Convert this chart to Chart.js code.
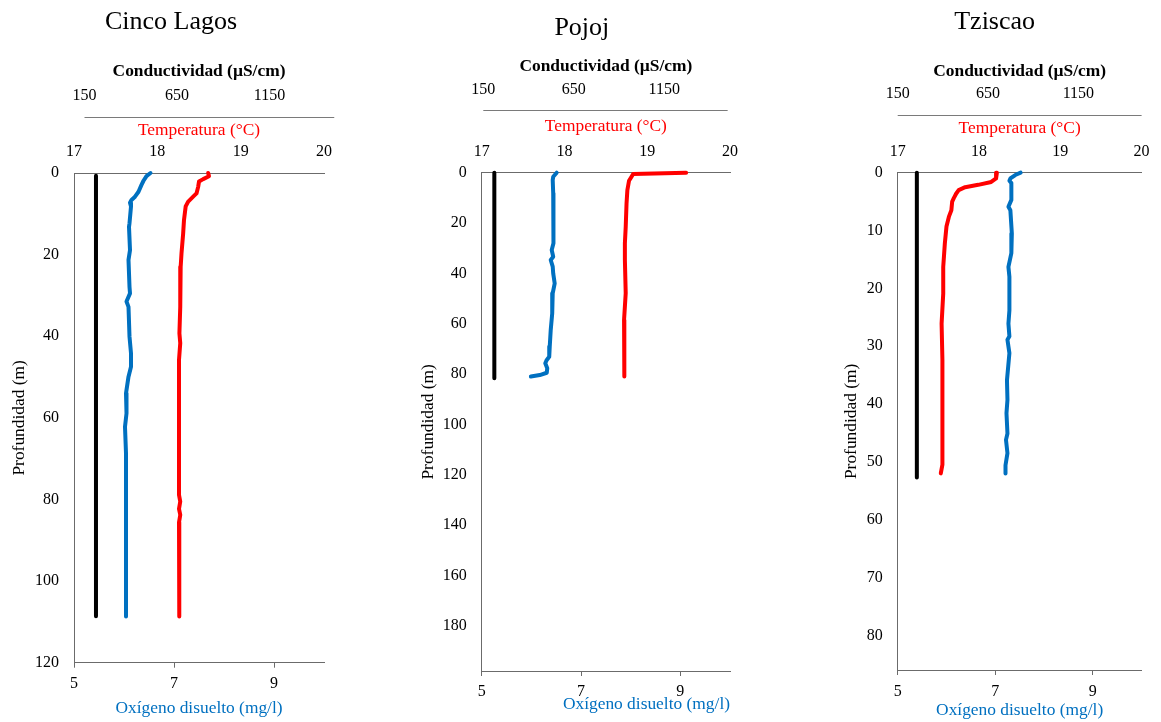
<!DOCTYPE html>
<html><head><meta charset="utf-8">
<script src="https://cdn.jsdelivr.net/npm/chart.js@4.4.1/dist/chart.umd.min.js"></script>
<style>
html,body{margin:0;padding:0;background:#fff;width:1161px;height:722px;overflow:hidden;}
canvas{position:absolute;top:0;}
</style></head><body>
<canvas id="c1" width="387" height="722" style="left:0px"></canvas>
<canvas id="c2" width="387" height="722" style="left:387px"></canvas>
<canvas id="c3" width="387" height="722" style="left:774px"></canvas>
<script>
// ---------------- DATA ----------------
const panelTitles = ['Cinco Lagos', 'Pojoj', 'Tziscao'];
const oxyTicks = [5, 7, 9];
const tempTicks = [17, 18, 19, 20];
const condTicks = [150, 650, 1150];

// Cinco Lagos
const cincoDepthTicks = [0, 20, 40, 60, 80, 100, 120];
const cincoOxyDepth = [0, 0.75, 1.9, 2.9, 4.6, 5.8, 6.6, 7.3, 8.2, 12.3, 13.2, 18.9, 21.3, 27.9, 29.5, 31.5, 32.8, 40.1, 44.2, 47.5, 49.9, 54, 58.9, 62.2, 68.7, 80, 100, 108.7];
const cincoOxy = [6.53, 6.45, 6.39, 6.35, 6.29, 6.22, 6.15, 6.12, 6.14, 6.11, 6.10, 6.12, 6.09, 6.11, 6.12, 6.05, 6.09, 6.11, 6.14, 6.14, 6.09, 6.04, 6.05, 6.02, 6.04, 6.04, 6.04, 6.04];
const cincoTempDepth = [0, 0.8, 1.5, 2.1, 3.4, 5.0, 5.8, 7.0, 8.2, 11.5, 14.8, 19.7, 23, 32.8, 39.3, 41.7, 45.8, 70, 78.9, 80.5, 82.3, 83.8, 85.6, 99, 100.5, 108.7];
const cincoTemp = [18.61, 18.62, 18.55, 18.50, 18.49, 18.47, 18.43, 18.37, 18.34, 18.32, 18.31, 18.29, 18.28, 18.275, 18.265, 18.275, 18.26, 18.26, 18.26, 18.275, 18.26, 18.275, 18.26, 18.26, 18.27, 18.26];
const cincoCondDepth = [0.7, 30, 60, 90, 108.6];
const cincoCond = [212, 212, 212, 212, 212];

// Pojoj
const pojojDepthTicks = [0, 20, 40, 60, 80, 100, 120, 140, 160, 180];
const pojojOxyDepth = [0, 1.6, 2.9, 8.2, 18.8, 28, 30.7, 33.4, 34.7, 37.3, 40, 44, 47.9, 55.9, 62.5, 69.1, 73.1, 74.4, 75.7, 77.7, 79.5, 80.4, 81];
const pojojOxy = [6.51, 6.44, 6.43, 6.44, 6.45, 6.44, 6.41, 6.44, 6.39, 6.43, 6.44, 6.47, 6.43, 6.42, 6.39, 6.37, 6.36, 6.31, 6.28, 6.32, 6.31, 6.17, 5.99];
const pojojTempDepth = [0, 0.5, 1.6, 3.2, 6.9, 12.2, 21.5, 28, 34.7, 47.9, 58.5, 65.2, 74.4, 81];
const pojojTemp = [19.47, 18.83, 18.81, 18.78, 18.76, 18.75, 18.74, 18.73, 18.73, 18.74, 18.72, 18.73, 18.72, 18.72];
const pojojCondDepth = [0, 30, 60, 81.7];
const pojojCond = [211, 211, 211, 211];

// Tziscao
const tzisDepthTicks = [0, 10, 20, 30, 40, 50, 60, 70, 80];
const tzisOxyDepth = [0, 0.4, 1, 1.4, 1.8, 4.7, 5.9, 6.5, 10.5, 13.9, 16.3, 18, 23.8, 26.1, 28.3, 28.9, 31.2, 35.9, 39.3, 41.6, 45.1, 46.2, 48.5, 50.6, 52];
const tzisOxy = [7.52, 7.41, 7.31, 7.29, 7.33, 7.33, 7.27, 7.31, 7.34, 7.33, 7.27, 7.29, 7.29, 7.27, 7.29, 7.25, 7.29, 7.24, 7.25, 7.23, 7.25, 7.22, 7.25, 7.21, 7.21];
const tzisTempDepth = [0, 1, 1.6, 2.1, 2.5, 3, 3.6, 4.4, 5, 6.5, 7.6, 9.3, 12.2, 16.3, 20.9, 26.1, 32.4, 48.5, 50.5, 52];
const tzisTemp = [18.22, 18.21, 18.15, 17.99, 17.83, 17.75, 17.72, 17.69, 17.67, 17.66, 17.63, 17.60, 17.58, 17.56, 17.56, 17.54, 17.55, 17.55, 17.55, 17.53];
const tzisCondDepth = [0, 25, 52.7];
const tzisCond = [256, 256, 256];

// ---------------- STYLE / LAYOUT ----------------
const FONT = 'Liberation Serif';
const AXIS = '#6b6b6b';
const RED = '#FF0000';
const BLUE = '#0070C0';
const TITLE_SIZE = 17.4;

const panelTitlePlugin = {
  id: 'panelTitle',
  afterDraw(chart, args, o) {
    const ca = chart.chartArea, ctx = chart.ctx;
    ctx.save();
    ctx.font = '26px "' + FONT + '"';
    ctx.fillStyle = '#000';
    ctx.textAlign = 'center';
    ctx.textBaseline = 'alphabetic';
    ctx.fillText(o.text, (ca.left + ca.right) / 2 + o.dx, o.baseline);
    ctx.restore();
  }
};
const condLinePlugin = {
  id: 'condLine',
  afterDraw(chart, args, o) {
    const s = chart.scales.cond, ctx = chart.ctx;
    const y = Math.round(s.bottom) + 0.5;
    ctx.save();
    ctx.strokeStyle = '#7a7a7a';
    ctx.lineWidth = 1.2;
    ctx.beginPath();
    ctx.moveTo(s.getPixelForValue(o.from), y);
    ctx.lineTo(s.getPixelForValue(o.to), y);
    ctx.stroke();
    ctx.restore();
  }
};

const pairs = (ys, xs) => xs.map((v, i) => ({x: v, y: ys[i]}));
const setTicks = arr => s => { s.ticks = arr.map(v => ({value: v})); };
const plain = v => String(v);

function build(id, c) {
  const f16 = {family: FONT, size: 16};
  const fT = {family: FONT, size: TITLE_SIZE};
  const lineStyle = {showLine: true, pointRadius: 0, borderWidth: 4, borderCapStyle: 'round', borderJoinStyle: 'round', fill: false, clip: false, tension: 0};
  new Chart(document.getElementById(id), {
    type: 'scatter',
    data: {datasets: [
      Object.assign({label: 'Conductividad', data: pairs(c.condDepth, c.cond), xAxisID: 'cond', yAxisID: 'y', borderColor: '#000'}, lineStyle),
      Object.assign({label: 'Oxígeno disuelto', data: pairs(c.oxyDepth, c.oxy), xAxisID: 'oxy', yAxisID: 'y', borderColor: BLUE}, lineStyle),
      Object.assign({label: 'Temperatura', data: pairs(c.tempDepth, c.temp), xAxisID: 'temp', yAxisID: 'y', borderColor: RED}, lineStyle)
    ]},
    options: {
      responsive: false, animation: false, devicePixelRatio: 1, events: [],
      layout: {padding: {top: c.padTop, right: c.padRight, left: 0, bottom: 0}},
      plugins: {
        legend: {display: false}, tooltip: {enabled: false}, title: {display: false},
        panelTitle: {text: c.title, dx: c.titleDx, baseline: c.titleBase},
        condLine: {from: 150, to: 1500}
      },
      scales: {
        y: {
          type: 'linear', position: 'left', reverse: true, min: 0, max: c.depthMax,
          afterBuildTicks: setTicks(c.depthTicks),
          afterFit: s => { s.width = c.yWidth; },
          grid: {display: false, drawTicks: false},
          border: {display: true, color: AXIS, width: 1},
          ticks: {padding: 15, color: '#000', font: f16, autoSkip: false, callback: plain},
          title: {display: true, text: 'Profundidad (m)', color: '#000', font: fT, padding: {top: c.yTitlePad, bottom: 0}}
        },
        oxy: {
          type: 'linear', position: 'bottom', min: 5, max: 10,
          afterBuildTicks: setTicks(oxyTicks),
          afterFit: s => { s.height = c.oxyH; },
          grid: {display: true, drawOnChartArea: false, drawTicks: true, tickLength: 5, color: AXIS},
          border: {display: true, color: AXIS, width: 1},
          ticks: {padding: c.oxyTickPad, color: '#000', font: f16, autoSkip: false, maxRotation: 0, minRotation: 0, callback: plain},
          title: {display: true, text: 'Oxígeno disuelto (mg/l)', color: BLUE, font: fT, align: c.oxyAlign, padding: {top: 0, bottom: c.oxyTitlePad}}
        },
        temp: {
          type: 'linear', position: 'top', weight: 0, min: 17, max: 20,
          afterBuildTicks: setTicks(tempTicks),
          afterFit: s => { s.height = c.tempH; },
          grid: {display: false, drawTicks: false},
          border: {display: true, color: AXIS, width: 1},
          ticks: {padding: c.tempTickPad, color: '#000', font: f16, autoSkip: false, maxRotation: 0, minRotation: 0, callback: plain},
          title: {display: true, text: 'Temperatura (°C)', color: RED, font: fT, padding: {top: c.tempTitlePad, bottom: 0}}
        },
        cond: {
          type: 'linear', position: 'top', weight: 1, min: c.condMin, max: c.condMax,
          afterBuildTicks: setTicks(condTicks),
          afterFit: s => { s.height = c.condH; },
          grid: {display: false, drawTicks: false},
          border: {display: false},
          ticks: {padding: c.condTickPad, color: '#000', font: f16, autoSkip: false, maxRotation: 0, minRotation: 0, callback: plain},
          title: {display: true, text: 'Conductividad (µS/cm)', color: '#000', font: {family: FONT, size: TITLE_SIZE, weight: 'bold'}, padding: {top: c.condTitlePad, bottom: 0}}
        }
      }
    },
    plugins: [panelTitlePlugin, condLinePlugin]
  });
}

build('c1', {
  title: panelTitles[0], titleDx: -28, titleBase: 29,
  depthMax: 120, depthTicks: cincoDepthTicks,
  oxyDepth: cincoOxyDepth, oxy: cincoOxy, tempDepth: cincoTempDepth, temp: cincoTemp, condDepth: cincoCondDepth, cond: cincoCond,
  condMin: 93.2, condMax: 1444.6,
  padTop: 50, padRight: 63, yWidth: 74, yTitlePad: 9.3,
  condH: 67, condTickPad: 11.7, condTitlePad: 10.6,
  tempH: 56, tempTickPad: 11.4, tempTitlePad: 2.6,
  oxyH: 59.3, oxyTickPad: 6, oxyTitlePad: 3.3, oxyAlign: 'center'
});
build('c2', {
  title: panelTitles[1], titleDx: -24, titleBase: 35,
  depthMax: 198, depthTicks: pojojDepthTicks,
  oxyDepth: pojojOxyDepth, oxy: pojojOxy, tempDepth: pojojTempDepth, temp: pojojTemp, condDepth: pojojCondDepth, cond: pojojCond,
  condMin: 141.2, condMax: 1513,
  padTop: 45, padRight: 44, yWidth: 94.7, yTitlePad: 30.9,
  condH: 65, condTickPad: 10.4, condTitlePad: 11.3,
  tempH: 62.7, tempTickPad: 11.4, tempTitlePad: 5.6,
  oxyH: 51, oxyTickPad: 6.1, oxyTitlePad: 7.6, oxyAlign: 'end'
});
build('c3', {
  title: panelTitles[2], titleDx: -25, titleBase: 29,
  depthMax: 86, depthTicks: tzisDepthTicks,
  oxyDepth: tzisOxyDepth, oxy: tzisOxy, tempDepth: tzisTempDepth, temp: tzisTemp, condDepth: tzisCondDepth, cond: tzisCond,
  condMin: 150, condMax: 1500,
  padTop: 50, padRight: 15.3, yWidth: 123.7, yTitlePad: 67.3,
  condH: 65, condTickPad: 12.1, condTitlePad: 10.6,
  tempH: 57.7, tempTickPad: 11.4, tempTitlePad: 2.9,
  oxyH: 52, oxyTickPad: 7.1, oxyTitlePad: 1.6, oxyAlign: 'center'
});
</script>
</body></html>
